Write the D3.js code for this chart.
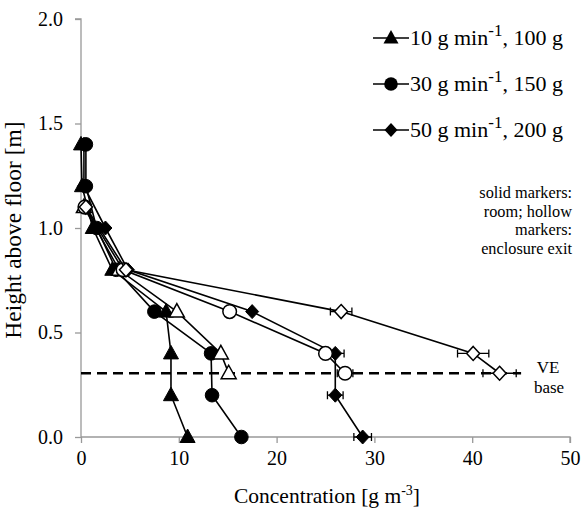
<!DOCTYPE html>
<html><head><meta charset="utf-8">
<script src="https://cdn.jsdelivr.net/npm/d3@7"></script>
<style>body{margin:0;background:#fff}
svg text{font-family:"Liberation Serif","Times New Roman",Times,"DejaVu Serif",serif !important}</style>
</head><body><div id="chart"></div>
<script>
const xTicks = [0,10,20,30,40,50];
const yTicks = [0.0,0.5,1.0,1.5,2.0];
const legendLabels = ["10 g min", "30 g min", "50 g min"];
const legendTails = [", 100 g", ", 150 g", ", 200 g"];
const veBase = 0.305;

// solid markers: room
const roomHeights = [0.0, 0.2, 0.4, 0.6, 0.8, 1.0, 1.2, 1.4];
const room10 = [10.9, 9.2, 9.2, 8.7, 3.2, 1.2, 0.1, 0.0];
const room30 = [16.4, 13.4, 13.3, 7.5, 3.6, 1.6, 0.5, 0.5];
const room50 = [28.8, 26.0, 26.0, 17.5, 4.8, 2.5, 0.3, 0.3];
const room50Err = [0.9, 0.8, 0.9, 0, 0, 0, 0, 0];

// hollow markers: enclosure exit
const exitHeights = [0.305, 0.4, 0.6, 0.8, 1.1];
const exit10 = [15.1, 14.3, 9.8, 3.9, 0.3];
const exit30 = [27.0, 25.0, 15.2, 4.3, 0.4];
const exit50 = [42.8, 40.1, 26.6, 4.6, 0.5];
const exit30Err = [0.8, 0, 0, 0, 0];
const exit50Err = [1.7, 1.6, 1.1, 0, 0];

const W = 583, H = 508;
const m = {l:81, r:13, t:19, b:71};
const svg = d3.select("#chart").append("svg").attr("width", W).attr("height", H);
const x = d3.scaleLinear().domain([0,50]).range([m.l, W - m.r]);
const y = d3.scaleLinear().domain([0,2]).range([H - m.b, m.t]);

const gx = svg.append("g").attr("transform", `translate(0,${y(0)})`)
  .call(d3.axisBottom(x).tickValues(xTicks).tickFormat(d3.format("d")).tickSize(6).tickPadding(8));
const gy = svg.append("g").attr("transform", `translate(${x(0)},0)`)
  .call(d3.axisLeft(y).tickValues(yTicks).tickFormat(d3.format(".1f")).tickSize(6).tickPadding(12));
[gx, gy].forEach(g => {
  g.attr("font-family", null);
  g.selectAll("path,line").attr("stroke", "#999").attr("stroke-width", 1.3);
  g.selectAll("text").attr("font-size", 20).attr("fill", "#000");
});
gy.select(".domain").attr("d", `M-6,${y(2)}H0V${y(0)}`);
gx.select(".domain").attr("d", `M${x(0)},0H${x(50)}V6`);

// axis titles
svg.append("text").attr("x", 327).attr("y", 503).attr("text-anchor","middle")
  .attr("font-size", 21.5).html('Concentration [g m<tspan dy="-8" font-size="14">-3</tspan><tspan dy="8">]</tspan>');
svg.append("text").attr("transform", `translate(21,230) rotate(-90)`)
  .attr("text-anchor","middle").attr("font-size", 23.5).text("Height above floor [m]");

// VE base dashed line
svg.append("line").attr("x1", x(0)).attr("x2", x(45)).attr("y1", y(veBase)).attr("y2", y(veBase))
  .attr("stroke","#000").attr("stroke-width",2.5).attr("stroke-dasharray","10,6");
svg.append("text").attr("x", 548).attr("y", 373).attr("text-anchor","middle").attr("font-size",17).text("VE");
svg.append("text").attr("x", 549).attr("y", 393).attr("text-anchor","middle").attr("font-size",17).text("base");

const line = d3.line().x(d => x(d.c)).y(d => y(d.h));
const series = [
  {h: roomHeights, c: room10, e: null, shape: d3.symbolTriangle, fill: true},
  {h: roomHeights, c: room30, e: null, shape: d3.symbolCircle, fill: true},
  {h: roomHeights, c: room50, e: room50Err, shape: d3.symbolDiamond, fill: true},
  {h: exitHeights, c: exit10, e: null, shape: d3.symbolTriangle, fill: false},
  {h: exitHeights, c: exit30, e: exit30Err, shape: d3.symbolCircle, fill: false},
  {h: exitHeights, c: exit50, e: exit50Err, shape: d3.symbolDiamond, fill: false},
];
function symPath(shape) {
  if (shape === d3.symbolDiamond) return "M0,-7L6.5,0L0,7L-6.5,0Z";
  if (shape === d3.symbolTriangle) return "M0,-8L7.5,5.5L-7.5,5.5Z";
  return d3.symbol().type(shape).size(145)();
}
series.forEach(s => {
  const pts = s.h.map((h,i) => ({h, c: s.c[i], e: s.e ? s.e[i] : 0}));
  svg.append("path").datum(pts).attr("d", line).attr("fill","none").attr("stroke","#000").attr("stroke-width",1.6);
  const eb = svg.append("g");
  pts.filter(d => d.e > 0).forEach(d => {
    const yy = y(d.h), x1 = x(d.c - d.e), x2 = x(d.c + d.e);
    eb.append("path").attr("d", `M${x1},${yy}H${x2}M${x1},${yy-4}V${yy+4}M${x2},${yy-4}V${yy+4}`)
      .attr("stroke","#000").attr("stroke-width",1.3).attr("fill","none");
  });
  svg.append("g").selectAll("path").data(pts).join("path")
    .attr("transform", d => `translate(${x(d.c)},${y(d.h)})`)
    .attr("d", symPath(s.shape))
    .attr("fill", s.fill ? "#000" : "#fff").attr("stroke","#000").attr("stroke-width", s.fill ? 1 : 1.5);
});

// legend
const shapes = [d3.symbolTriangle, d3.symbolCircle, d3.symbolDiamond];
const ly = [38, 84, 130];
legendLabels.forEach((lab,i) => {
  const g = svg.append("g").attr("transform", `translate(0,${ly[i]})`);
  g.append("line").attr("x1",373).attr("x2",409).attr("stroke","#000").attr("stroke-width",1.6);
  g.append("path").attr("transform","translate(391,0)").attr("d", symPath(shapes[i])).attr("fill","#000");
  g.append("text").attr("x",410).attr("y",7).attr("font-size",22)
    .html(`${lab}<tspan dy="-9" font-size="17">-1</tspan><tspan dy="9">${legendTails[i]}</tspan>`);
});

// annotation
["solid markers:", "room; hollow", "markers:", "enclosure exit"].forEach((t,i) => {
  svg.append("text").attr("x",572).attr("y",198 + i*18.5).attr("text-anchor","end").attr("font-size",16.3).text(t);
});
</script></body></html>
